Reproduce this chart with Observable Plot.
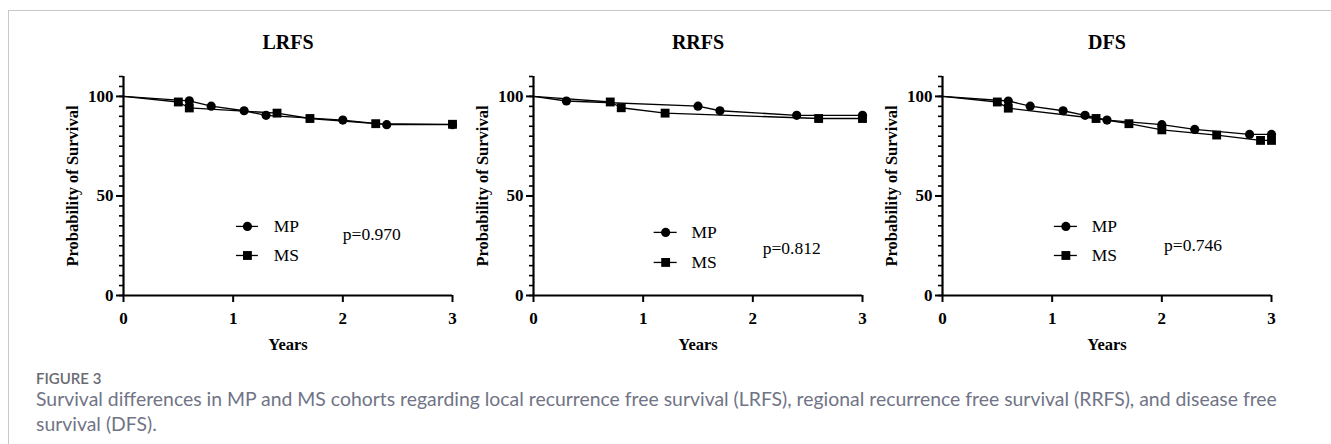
<!DOCTYPE html>
<html>
<head>
<meta charset="utf-8">
<script src="https://cdn.jsdelivr.net/npm/d3@7"></script>
<script src="https://cdn.jsdelivr.net/npm/@observablehq/plot@0.6"></script>
<style>
  html, body { margin: 0; padding: 0; background: #fff; }
  #root { position: relative; width: 1331px; height: 444px; overflow: hidden; }
  #frame { position: absolute; left: 8px; top: 10px; width: 1400px; height: 500px;
           border-left: 1px solid #c8c8cc; border-top: 1px solid #c8c8cc; }
  .panel { position: absolute; top: 20px; }
  #figlabel { position: absolute; left: 36px; top: 368px; font: 600 15px Lato, sans-serif;
              color: #6a6a72; line-height: 20px; white-space: nowrap; }
  #caption { position: absolute; left: 36px; top: 386px; font: 19.4px Lato, sans-serif;
             color: #707486; line-height: 25px; white-space: nowrap; }
</style>
</head>
<body>
<div id="root">
  <div id="frame"></div>
  <div id="p0" class="panel" style="left:61px"></div>
  <div id="p1" class="panel" style="left:471px"></div>
  <div id="p2" class="panel" style="left:880px"></div>
  <div id="figlabel">FIGURE 3</div>
  <div id="caption">Survival differences in MP and MS cohorts regarding local recurrence free survival (LRFS), regional recurrence free survival (RRFS), and disease free<br>survival (DFS).</div>
</div>
<script>
// ---- data ----
const titles = ["LRFS", "RRFS", "DFS"];
const pValues = ["p=0.970", "p=0.812", "p=0.746"];
const groups = ["MP", "MS"];
const xTicks = [0, 1, 2, 3];
const yTicks = [0, 50, 100];
const yLabel = "Probability of Survival";
const xLabel = "Years";

// LRFS
const lrfsMPYears = [0, 0.6, 0.8, 1.1, 1.3, 2.0, 2.4, 3.0];
const lrfsMPSurv  = [100, 97.8, 95.1, 92.8, 90.5, 88.1, 85.8, 85.8];
const lrfsMSYears = [0, 0.5, 0.6, 1.4, 1.7, 2.3, 3.0];
const lrfsMSSurv  = [100, 97.2, 94.2, 91.6, 88.9, 86.3, 86.0];
// RRFS
const rrfsMPYears = [0, 0.3, 1.5, 1.7, 2.4, 3.0];
const rrfsMPSurv  = [100, 97.7, 95.1, 92.8, 90.5, 90.5];
const rrfsMSYears = [0, 0.7, 0.8, 1.2, 2.6, 3.0];
const rrfsMSSurv  = [100, 97.2, 94.3, 91.6, 88.9, 88.9];
// DFS
const dfsMPYears = [0, 0.6, 0.8, 1.1, 1.3, 1.5, 2.0, 2.3, 2.8, 3.0];
const dfsMPSurv  = [100, 97.7, 95.1, 92.8, 90.5, 88.1, 85.8, 83.4, 80.9, 80.9];
const dfsMSYears = [0, 0.5, 0.6, 1.4, 1.7, 2.0, 2.5, 2.9, 3.0];
const dfsMSSurv  = [100, 97.2, 94.1, 88.9, 86.3, 83.2, 80.6, 77.9, 77.9];

// ---- layout (annotation placement, data units) ----
const legendLayout = [
  {x1: 1.03, x2: 1.23, rows: [34.7, 20.1], tx: 1.37, px: 2.00, py: 30.7},
  {x1: 1.10, x2: 1.31, rows: [31.7, 16.6], tx: 1.44, px: 2.09, py: 23.6},
  {x1: 1.02, x2: 1.23, rows: [34.7, 20.1], tx: 1.36, px: 2.02, py: 25.1}
];

const series = [
  [lrfsMPYears, lrfsMPSurv, lrfsMSYears, lrfsMSSurv],
  [rrfsMPYears, rrfsMPSurv, rrfsMSYears, rrfsMSSurv],
  [dfsMPYears, dfsMPSurv, dfsMSYears, dfsMSSurv]
];

const serif = '"Liberation Serif", "Times New Roman", serif';
const minorTicks = d3.range(0, 111, 5);

function panel(i) {
  const [mx, my, sx, sy] = series[i];
  const mp = mx.map((x, j) => ({x, y: my[j]}));
  const ms = sx.map((x, j) => ({x, y: sy[j]}));
  const L = legendLayout[i];
  const leg = groups.map((g, k) => ({g, y: L.rows[k], xm: (L.x1 + L.x2) / 2}));
  return Plot.plot({
    width: 410, height: 337,
    marginLeft: 62, marginRight: 19, marginTop: 56, marginBottom: 62,
    x: {domain: [0, 3]},
    y: {domain: [0, 110]},
    style: {fontFamily: serif, fontSize: "16.5px", color: "black", background: "transparent", overflow: "visible"},
    marks: [
      Plot.axisY(minorTicks, {tickSize: 4, text: null, strokeWidth: 1.6, label: null}),
      Plot.axisY(yTicks, {tickSize: 7, tickPadding: 3, strokeWidth: 2, fontSize: 17, fontWeight: "bold", label: null}),
      Plot.axisX(xTicks, {tickSize: 7, tickPadding: 9, strokeWidth: 2, fontSize: 17, fontWeight: "bold", label: null}),
      Plot.ruleX([0], {strokeWidth: 2.2}),
      Plot.ruleY([0], {strokeWidth: 2.2}),
      Plot.line(mp, {x: "x", y: "y", stroke: "black", strokeWidth: 1.3}),
      Plot.line(ms, {x: "x", y: "y", stroke: "black", strokeWidth: 1.3}),
      Plot.dot(ms.filter(d => d.x > 0), {x: "x", y: "y", symbol: "square", r: 5, fill: "black", stroke: null}),
      Plot.dot(mp.filter(d => d.x > 0), {x: "x", y: "y", symbol: "circle", r: 4.6, fill: "black", stroke: null}),
      // legend
      Plot.ruleY(leg, {y: "y", x1: () => L.x1, x2: () => L.x2, stroke: "black", strokeWidth: 1.3}),
      Plot.dot(leg.filter(d => d.g === "MP"), {x: "xm", y: "y", symbol: "circle", r: 4.6, fill: "black", stroke: null}),
      Plot.dot(leg.filter(d => d.g === "MS"), {x: "xm", y: "y", symbol: "square", r: 5, fill: "black", stroke: null}),
      Plot.text(leg, {x: () => L.tx, y: "y", text: "g", textAnchor: "start", fontSize: 17.5, fontWeight: "normal"}),
      Plot.text([pValues[i]], {x: () => L.px, y: () => L.py, text: d => d, textAnchor: "start", fontSize: 17.5, fontWeight: "normal"}),
      // titles and axis labels
      Plot.text([titles[i]], {text: d => d, frameAnchor: "top", dy: -34, lineAnchor: "middle", fontSize: 20, fontWeight: "bold"}),
      Plot.text([yLabel], {text: d => d, frameAnchor: "left", dx: -51, rotate: -90, textAnchor: "middle", lineAnchor: "middle", fontSize: 16.5, fontWeight: "bold"}),
      Plot.text([xLabel], {text: d => d, frameAnchor: "bottom", dy: 49, lineAnchor: "middle", fontSize: 16.5, fontWeight: "bold"})
    ]
  });
}

for (let i = 0; i < 3; i++) document.getElementById("p" + i).append(panel(i));
</script>
</body>
</html>
